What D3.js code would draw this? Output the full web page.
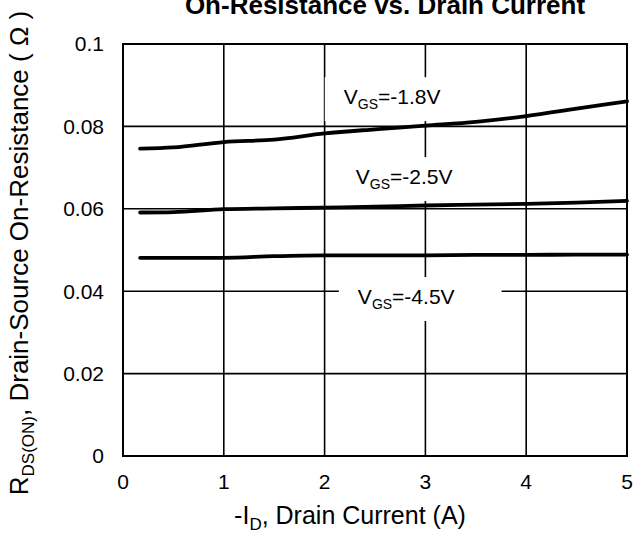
<!DOCTYPE html>
<html>
<head>
<meta charset="utf-8">
<script src="https://cdn.jsdelivr.net/npm/d3@7"></script>
<style>
  body { margin: 0; background: #fff; }
  text { font-family: Arial, 'Liberation Sans', sans-serif; fill: #000; }
</style>
</head>
<body>
<div id="chart"></div>
<script>
// drain current (A) and RDS(on) (ohm)
let currents = [0.17, 0.5, 1, 1.5, 2, 2.5, 3, 3.5, 4, 4.5, 5]
let vgs18 = [0.0746, 0.0749, 0.0762, 0.0768, 0.0783, 0.0793, 0.0802, 0.0811, 0.0825, 0.0843, 0.0861]
let vgs25 = [0.0591, 0.0592, 0.0599, 0.0601, 0.0603, 0.0605, 0.0608, 0.0610, 0.0612, 0.0615, 0.0619]
let vgs45 = [0.0481, 0.0481, 0.0481, 0.0485, 0.0487, 0.0487, 0.0487, 0.0488, 0.0488, 0.0489, 0.0489]

let xTicks = [0, 1, 2, 3, 4, 5]
let yTicks = [0, 0.02, 0.04, 0.06, 0.08, 0.1]

// curve labels: value, text anchor point (x in A, y in ohm)
let labelNames = ['-1.8V', '-2.5V', '-4.5V']
let labelX = [2.19, 2.31, 2.33]
let labelY = [0.0854, 0.066, 0.0369]

let margin = { top: 44, left: 123, right: 7, bottom: 77 }
let width = 634 - margin.left - margin.right
let height = 533 - margin.top - margin.bottom

let svg = d3
  .select('#chart')
  .append('svg')
  .attr('width', 634)
  .attr('height', 533)

let g = svg
  .append('g')
  .attr('transform', 'translate(' + margin.left + ',' + margin.top + ')')

let xScale = d3.scaleLinear().domain([0, 5]).range([0, width])
let yScale = d3.scaleLinear().domain([0, 0.1]).range([height, 0])

// grid
g.selectAll('.vgrid')
  .data(xTicks.slice(1, -1))
  .enter()
  .append('line')
  .attr('x1', d => xScale(d))
  .attr('x2', d => xScale(d))
  .attr('y1', 0)
  .attr('y2', height)
  .attr('stroke', '#000')
  .attr('stroke-width', 1.6)

g.selectAll('.hgrid')
  .data(yTicks.slice(1, -1))
  .enter()
  .append('line')
  .attr('x1', 0)
  .attr('x2', width)
  .attr('y1', d => yScale(d))
  .attr('y2', d => yScale(d))
  .attr('stroke', '#000')
  .attr('stroke-width', 1.6)

// label boxes that hide the grid behind them
let labels = g
  .selectAll('.vlabel')
  .data(labelNames)
  .enter()
  .append('g')
  .attr('class', 'vlabel')

let labelText = labels
  .append('text')
  .attr('x', (d, i) => xScale(labelX[i]))
  .attr('y', (d, i) => yScale(labelY[i]))
  .attr('font-size', 21)

labelText.append('tspan').text('V')
labelText
  .append('tspan')
  .attr('font-size', 14)
  .attr('dy', 5)
  .text('GS')
labelText
  .append('tspan')
  .attr('dy', -5)
  .text(d => '=' + d)

labels.each(function() {
  let box = d3.select(this).select('text').node().getBBox()
  d3.select(this)
    .insert('rect', 'text')
    .attr('x', box.x - 19)
    .attr('y', box.y - 8)
    .attr('width', box.width + 66)
    .attr('height', box.height + 17)
    .attr('fill', '#fff')
})

// frame
g.append('rect')
  .attr('width', width)
  .attr('height', height)
  .attr('fill', 'none')
  .attr('stroke', '#000')
  .attr('stroke-width', 2)

// curves
let line = d3
  .line()
  .x((d, i) => xScale(currents[i]))
  .y(d => yScale(d))
  .curve(d3.curveMonotoneX)

g.selectAll('.curve')
  .data([vgs18, vgs25, vgs45])
  .enter()
  .append('path')
  .attr('d', line)
  .attr('fill', 'none')
  .attr('stroke', '#000')
  .attr('stroke-width', 3.8)
  .attr('stroke-linecap', 'round')

// tick labels
g.selectAll('.xlab')
  .data(xTicks)
  .enter()
  .append('text')
  .attr('x', d => xScale(d))
  .attr('y', height + 33)
  .attr('text-anchor', 'middle')
  .attr('font-size', 21)
  .text(d => d)

g.selectAll('.ylab')
  .data(yTicks)
  .enter()
  .append('text')
  .attr('x', -19)
  .attr('y', d => yScale(d))
  .attr('dy', '0.35em')
  .attr('text-anchor', 'end')
  .attr('font-size', 21)
  .text(d => d)

// axis titles
let xTitle = svg
  .append('text')
  .attr('x', 350)
  .attr('y', 524)
  .attr('text-anchor', 'middle')
  .attr('font-size', 25)
xTitle.append('tspan').text('-I')
xTitle
  .append('tspan')
  .attr('font-size', 17)
  .attr('dy', 6)
  .text('D')
xTitle
  .append('tspan')
  .attr('dy', -6)
  .text(', Drain Current (A)')

let yTitle = svg
  .append('text')
  .attr('transform', 'translate(28,253) rotate(-90)')
  .attr('text-anchor', 'middle')
  .attr('font-size', 26)
yTitle.append('tspan').text('R')
yTitle
  .append('tspan')
  .attr('font-size', 17)
  .attr('dy', 6)
  .text('DS(ON)')
yTitle
  .append('tspan')
  .attr('dy', -6)
  .text(',  Drain-Source On-Resistance ( Ω )')

svg
  .append('text')
  .attr('x', 385)
  .attr('y', 14)
  .attr('text-anchor', 'middle')
  .attr('font-size', 26)
  .attr('font-weight', 'bold')
  .text('On-Resistance vs. Drain Current')
</script>
</body>
</html>
